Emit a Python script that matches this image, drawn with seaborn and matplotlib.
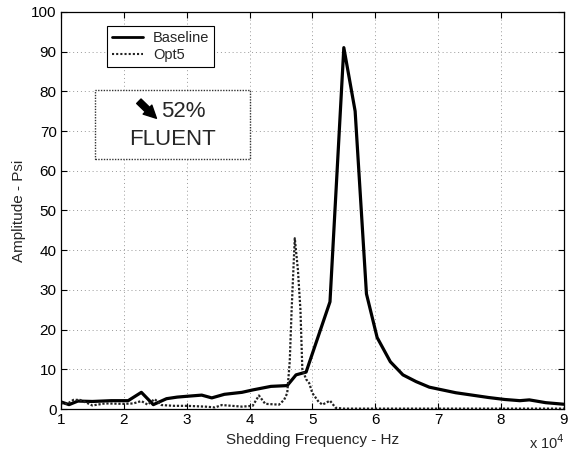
import matplotlib
matplotlib.use("Agg")
import matplotlib.pyplot as plt
import matplotlib.ticker as mticker
from matplotlib.patches import Rectangle
from matplotlib.lines import Line2D
import numpy as np
import pandas as pd
import seaborn as sns

# ---- data (frequency in Hz, amplitude in psi) ----
baseline_freq = [10000, 11300, 12700, 15000, 18000, 20700, 22800, 24700, 26800, 28500,
                 30000, 32400, 34000, 36000, 38800, 40500, 43400, 46000, 47400, 49000,
                 52800, 55000, 56800, 58600, 60300, 62400, 64400, 66500, 68600, 70700,
                 72800, 75400, 78000, 80600, 83000, 84500, 87100, 90000]
baseline_amp = [1.8, 1.1, 2.0, 1.9, 2.1, 2.1, 4.2, 1.1, 2.6, 3.0,
                3.2, 3.5, 2.8, 3.7, 4.2, 4.8, 5.7, 5.9, 8.6, 9.3,
                27.0, 91.0, 75.0, 29.0, 18.0, 11.9, 8.6, 6.9, 5.5, 4.8,
                4.1, 3.5, 2.9, 2.4, 2.1, 2.3, 1.6, 1.2]

opt5_freq = [10000, 11000, 12000, 13000, 14200, 15000, 17000, 20000, 21500, 22800,
             23800, 24900, 26000, 28000, 30000, 33000, 34500, 35600, 38800, 40500,
             41500, 42500, 44700, 45500, 46000, 46400, 46700, 47200, 47700, 48100,
             48400, 49000, 49500, 50000, 51000, 51600, 52800, 53700, 55000, 60000,
             70000, 80000, 90000]
opt5_amp = [1.5, 1.3, 2.3, 2.3, 1.5, 0.9, 1.4, 1.3, 1.4, 2.0,
            1.1, 2.5, 1.0, 0.8, 0.8, 0.6, 0.4, 1.0, 0.6, 0.8,
            3.4, 1.3, 1.1, 2.3, 4.0, 12.0, 25.0, 43.0, 35.0, 25.0,
            10.0, 7.5, 6.5, 4.0, 1.8, 1.1, 2.1, 0.3, 0.1, 0.1,
            0.1, 0.1, 0.1]

series_names = ["Baseline", "Opt5"]
x_ticks = [10000, 20000, 30000, 40000, 50000, 60000, 70000, 80000, 90000]
y_ticks = [0, 10, 20, 30, 40, 50, 60, 70, 80, 90, 100]

df = pd.concat([
    pd.DataFrame({"freq": baseline_freq, "amp": baseline_amp, "series": series_names[0]}),
    pd.DataFrame({"freq": opt5_freq, "amp": opt5_amp, "series": series_names[1]}),
], ignore_index=True)

sns.set_style("ticks")
plt.rcParams["font.family"] = ["Liberation Sans", "DejaVu Sans"]

fig = plt.figure(figsize=(5.69, 4.57), dpi=100)
ax = fig.add_axes([0.107, 0.105, 0.884, 0.869])

sns.lineplot(data=df, x="freq", y="amp", hue="series", style="series",
             palette={"Baseline": "black", "Opt5": "#222222"},
             dashes={"Baseline": "", "Opt5": (1, 0.8)},
             sort=False, estimator=None, ax=ax, legend=False)
lines = ax.get_lines()
lines[0].set_linewidth(2.3)
lines[1].set_linewidth(1.6)

ax.set_xlim(10000, 90000)
ax.set_ylim(0, 100)
ax.set_xticks(x_ticks)
ax.set_yticks(y_ticks)
ax.xaxis.set_major_formatter(mticker.FuncFormatter(lambda v, p: f"{v/1e4:g}"))
ax.grid(True, linestyle=(0, (1, 3)), color="#999999", linewidth=0.7)
ax.tick_params(direction="in", top=True, right=True, length=4, width=0.8,
               labelsize=11, pad=3, colors="black")
for s in ax.spines.values():
    s.set_linewidth(0.9)
    s.set_color("black")

ax.set_xlabel("Shedding Frequency - Hz", fontsize=11, labelpad=4)
ax.set_ylabel("Amplitude - Psi", fontsize=11, labelpad=4)
fig.text(0.992, 0.012, r"x 10$^4$", ha="right", va="bottom", fontsize=10.5)

# legend
handles = [Line2D([], [], color="black", lw=2.0),
           Line2D([], [], color="#222222", lw=1.5, linestyle=(0, (1, 1)))]
leg = ax.legend(handles, series_names, loc="upper left",
                bbox_to_anchor=(0.0915, 0.965), borderaxespad=0,
                fancybox=False, framealpha=1, edgecolor="black", fontsize=10.5,
                handlelength=2.1, handletextpad=0.7, borderpad=0.35, labelspacing=0.2)
leg.get_frame().set_linewidth(0.8)

# annotation box
ax.add_patch(Rectangle((0.068, 0.63), 0.308, 0.174, transform=ax.transAxes,
                       fill=True, facecolor="white", edgecolor="#333333",
                       linewidth=1.0, linestyle=(0, (1, 1)), zorder=5))
ax.annotate("", xy=(0.190, 0.732), xytext=(0.155, 0.775),
            xycoords="axes fraction", textcoords="axes fraction",
            arrowprops=dict(arrowstyle="simple,head_length=0.9,head_width=0.9,tail_width=0.45",
                            color="black", shrinkA=0, shrinkB=0), zorder=6)
ax.text(0.199, 0.748, "52%", transform=ax.transAxes, ha="left", va="center",
        fontsize=16, zorder=6)
ax.text(0.222, 0.678, "FLUENT", transform=ax.transAxes, ha="center", va="center",
        fontsize=16, zorder=6)

fig.savefig("out.png", dpi=100)
